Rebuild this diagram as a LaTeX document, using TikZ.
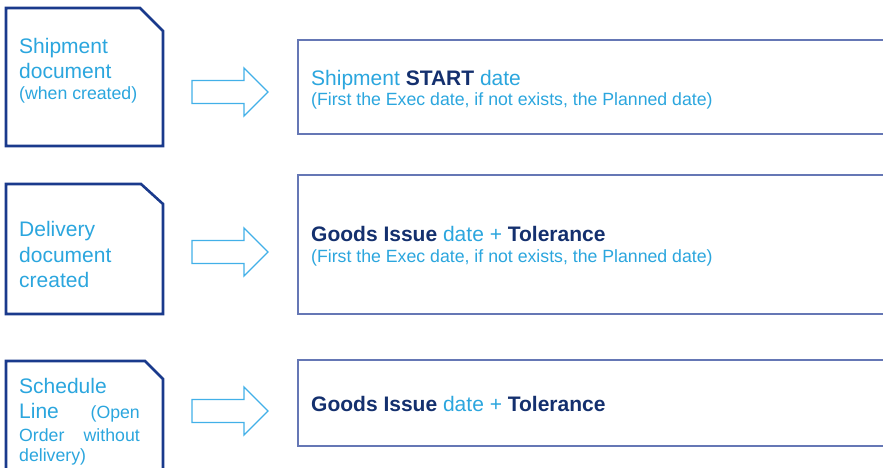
\documentclass[tikz,border=0pt]{standalone}
\usepackage{fontspec}
\setmainfont{Liberation Sans}
\definecolor{lblue}{HTML}{2BA6DE}
\definecolor{navy}{HTML}{1A3A8C}
\definecolor{dnavy}{HTML}{14306E}
\definecolor{rborder}{HTML}{6577B5}
\definecolor{arrowc}{HTML}{42B0E8}
\newcommand{\bigtxt}{\fontsize{21}{25}\selectfont}
\newcommand{\smalltxt}{\fontsize{17.7}{21}\selectfont}
\tikzset{
  docbox/.style={draw=navy, line width=2.6pt, line join=miter, fill=white},
  resbox/.style={draw=rborder, line width=1.4pt, fill=white},
  txt/.style={anchor=base west, inner sep=0pt, text=lblue, font=\bigtxt},
  stxt/.style={anchor=base west, inner sep=0pt, text=lblue, font=\smalltxt},
  fatarrow/.pic={
    \draw[draw=arrowc, line width=1.3pt, fill=white, line join=miter]
      (-38,-11.5) -- (14,-11.5) -- (14,-24) -- (38,0) -- (14,24) -- (14,11.5) -- (-38,11.5) -- cycle;
  }
}
\begin{document}
\begin{tikzpicture}[x=1pt,y=-1pt]
\useasboundingbox (0,0) rectangle (883,467);
\clip (0,0) rectangle (883,467);
% left document boxes
\draw[docbox] (6,8) -- (140,8) -- (163,31) -- (163,146) -- (6,146) -- cycle;
\draw[docbox] (6,184) -- (141,184) -- (163,204) -- (163,314) -- (6,314) -- cycle;
\draw[docbox] (6,361) -- (145,361) -- (163,379) -- (163,480) -- (6,480) -- cycle;
% left texts
\node[txt] (s1) at (19,53) {Shipment};
\node[txt] (s2) at (19,78) {document};
\node[stxt] (s3) at (19,99) {(when created)};
\node[txt] (d1) at (19,236) {Delivery};
\node[txt] (d2) at (19,262) {document};
\node[txt] (d3) at (19,287) {created};
\node[txt] (c1) at (19,393) {Schedule};
\node[txt] (c2) at (19,418) {Line};
\node[stxt, anchor=base east] (c3) at (140,418) {(Open};
\node[stxt] (c4) at (19,441) {Order};
\node[stxt, anchor=base east] (c5) at (140,441) {without};
\node[stxt] (c6) at (19,461) {delivery)};
% arrows
\pic at (230,92) {fatarrow};
\pic at (230,252) {fatarrow};
\pic at (230,411) {fatarrow};
% right boxes
\draw[resbox] (298,40) rectangle (900,134);
\draw[resbox] (298,175) rectangle (900,314);
\draw[resbox] (298,360) rectangle (900,446);
% right texts
\node[txt] (r1) at (311,85) {Shipment \textbf{\color{dnavy}START} date};
\node[stxt] (r1b) at (311,105) {(First the Exec date, if not exists, the Planned date)};
\node[txt] (r2) at (311,241) {\textbf{\color{dnavy}Goods Issue} date + \textbf{\color{dnavy}Tolerance}};
\node[stxt] (r2b) at (311,262) {(First the Exec date, if not exists, the Planned date)};
\node[txt] (r3) at (311,411) {\textbf{\color{dnavy}Goods Issue} date + \textbf{\color{dnavy}Tolerance}};
\end{tikzpicture}
\end{document}
